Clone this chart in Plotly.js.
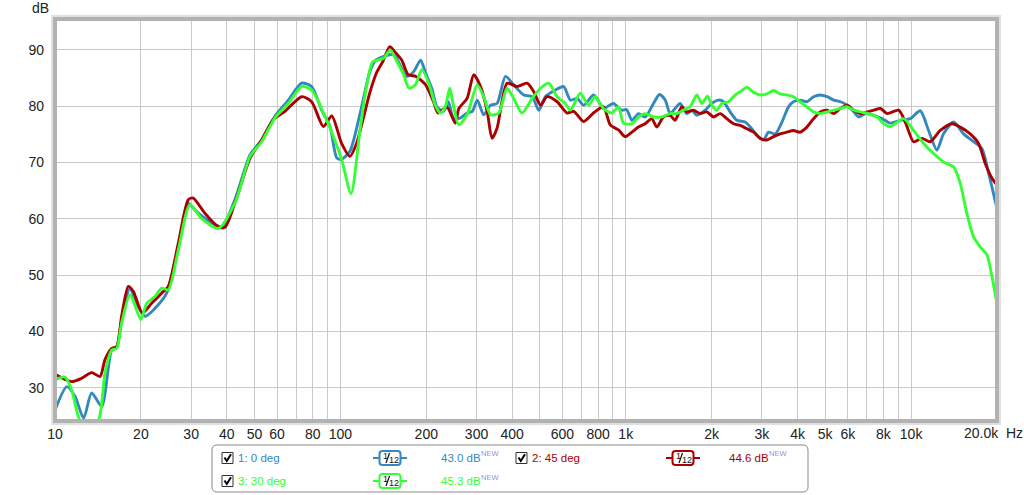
<!DOCTYPE html>
<html>
<head>
<meta charset="utf-8">
<script src="https://cdn.plot.ly/plotly-3.0.1.min.js"></script>
<style>
html,body{margin:0;padding:0;background:#fff;}
#chart{width:1024px;height:495px;}
</style>
</head>
<body>
<div id="chart"></div>
<script>
// ---- data ----
const seriesNames = ["1: 0 deg", "2: 45 deg", "3: 30 deg"];
const seriesLevels = ["43.0 dB", "44.6 dB", "45.3 dB"];

const f0 = [10,11.0,11.75,12.6,13.44,14.58,15.8,16.45,17.12,18.32,19.32,20.67,22.4,24.61,27.05,29.31,30.91,33.52,38.35,42.69,48.27,52.98,58.95,65.71,73.15,79.3,86.0,92.0,97.2,101,108,117,127,133,145,154,162,171,181,191,198,209,218,230,239,249,263,278,290,302,318,336,354,379,405,439,470,496,523,567,606,640,675,712,771,813,836,905,968,1008,1051,1108,1170,1251,1313,1375,1431,1489,1551,1637,1704,1774,1898,2003,2114,2201,2323,2451,2622,2765,2918,3039,3164,3342,3527,3720,3871,4086,4314,4554,4807,5075,5358,5655,5970,6302,6559,6919,7398,7914,8452,9162,9931,10768,11512,12315,12991,14098,15273,16558,17707,18696,19989];
const db0 = [26.0,30.2,28.5,24.6,29.1,26.7,36.7,37.3,42.0,47.7,45.0,42.7,44.1,46.8,55.1,62.8,61.6,60.1,58.6,63.4,71.4,74.0,78.2,81.1,84.1,83.5,79.3,76.4,70.8,70.6,72.0,78.5,86.2,88.2,89.0,89.2,87.3,85.3,86.2,88.2,86.2,83.2,79.9,79.1,80.8,77.9,77.9,78.8,79.1,81.1,78.5,80.2,80.5,85.3,83.8,82.0,81.7,79.3,81.7,82.9,83.5,81.1,81.4,80.2,82.0,80.5,79.6,80.5,79.3,79.4,77.5,78.7,78.1,80.5,82.1,81.1,78.7,79.6,80.5,78.7,79.3,78.4,79.3,80.5,81.1,80.8,79.0,77.5,77.2,76.0,74.6,74.0,75.4,75.1,77.2,79.9,80.8,81.1,80.8,81.7,82.0,81.7,81.1,80.8,80.2,79.0,78.1,78.7,78.4,77.8,77.0,77.5,77.8,79.2,75.7,72.2,75.1,77.2,75.1,73.7,72.5,68.1,61.9];

const f45 = [10,11.44,12.4,13.44,14.38,14.97,15.8,16.45,17.12,18.07,18.82,20.23,21.81,23.64,24.94,27.05,29.31,30.5,33.52,37.33,39.4,42.69,48.27,52.98,58.17,63.95,73.15,79.3,87.2,93.3,101,108,114,120,127,134,141,149,155,164,173,184,199,212,220,236,253,260,278,293.5,310,327,340,354,384,416,451,476,503,530,575,623,657,712,771,836,882,943,995,1051,1108,1170,1234,1285,1355,1431,1489,1572,1637,1727,1822,1923,2030,2143,2261,2386,2518,2657,2804,2959,3121,3297,3479,3670,3871,4086,4314,4554,4807,5075,5358,5655,5970,6302,6647,7012,7398,7809,8242,9044,9542,10203,10912,11672,12653,13904,14867,16110,17242,18206,19212,19989];
const db45 = [32.4,31.1,31.7,32.7,32.0,35.0,37.0,37.3,42.7,48.0,47.1,43.3,45.0,46.8,48.0,55.7,63.4,63.7,61.0,58.6,58.5,62.8,70.8,74.0,77.6,79.1,81.7,80.8,76.4,78.3,73.4,71.1,73.4,77.6,82.5,86.0,88.0,90.6,89.7,88.2,85.6,85.3,83.8,80.8,78.8,79.9,77.0,79.6,81.4,85.6,83.5,79.1,74.3,76.1,84.1,83.5,84.1,82.6,80.2,81.7,80.8,78.8,79.1,77.3,78.8,79.9,76.7,75.8,74.6,75.4,76.3,76.9,77.8,76.3,78.1,78.4,77.5,79.9,79.0,79.3,78.7,79.0,78.1,78.7,77.8,76.9,76.6,76.0,75.4,74.3,74.0,74.6,75.1,75.4,75.7,75.4,76.3,77.8,79.0,79.3,78.7,79.6,80.2,79.3,78.7,79.0,79.3,79.6,78.7,79.3,77.2,73.7,74.3,73.7,75.7,76.9,76.3,75.1,73.4,69.8,67.2,66.0];

const f30 = [10,10.84,11.44,12.07,12.74,14.19,14.97,15.8,16.45,17.12,18.32,20.0,20.95,22.4,23.64,24.94,27.05,29.7,32.63,37.33,42.69,48.27,52.98,58.95,65.71,73.15,79.3,88.38,94.6,101.1,109,117,123,130,141.6,149.6,158,166.7,174,183,193,204,215,224,233,241.7,249,260,278,301.7,318,336,359,383.7,405,433,470,503,537.5,574.6,614,640,693,741,782,836,893,943,982,1051,1108,1170,1251,1338,1431,1510,1594,1681,1774,1847,1934,2003,2086,2172,2291,2418,2552,2657,2804,2959,3121,3297,3479,3670,3871,4086,4314,4554,4807,5075,5358,5655,5970,6302,6647,7107,7600,8023,8452,9415,10203,11064,11985,12991,14098,14867,15687,16558,17479,18442,19212,19989];
const db30 = [31.4,31.9,29.6,24.9,22.5,24.3,32.6,36.7,37.0,41.5,46.5,42.1,45.0,46.2,47.7,47.4,54.5,62.5,60.1,58.3,62.8,71.1,73.7,77.9,80.5,83.5,82.9,78.2,74.6,70.5,64.5,75.5,83.0,87.9,88.5,90.0,87.9,85.6,83.2,83.8,86.5,84.1,80.2,78.8,79.9,83.2,80.2,76.7,78.5,83.8,81.7,78.5,78.8,83.2,81.4,78.8,81.4,83.2,84.1,81.7,80.5,79.3,82.3,80.2,81.7,79.6,78.8,79.9,77.0,76.9,78.1,78.7,78.1,78.1,78.7,78.7,79.3,79.9,82.0,80.5,81.8,80.2,79.3,80.5,80.8,82.0,82.8,83.4,82.5,82.0,82.2,82.8,82.2,82.0,81.7,80.8,79.9,79.0,78.7,79.0,79.3,79.6,79.9,79.3,79.0,78.7,78.1,76.9,76.4,77.8,75.7,73.4,71.6,70.1,69.2,66.3,60.9,56.8,55.0,53.6,49.7,45.0];

const xTickVals = [10,20,30,40,50,60,80,100,200,300,400,600,800,1000,2000,3000,4000,5000,6000,8000,10000];
const xTickText = ["10","20","30","40","50","60","80","100","200","300","400","600","800","1k","2k","3k","4k","5k","6k","8k","10k"];
const yTickVals = [30,40,50,60,70,80,90];

// ---- styling ----
const colors = ["#3388bd", "#aa0000", "#33ff33"];
const W = 1024, H = 495;
const L = 55, R = 997, T = 19, B = 421;
const px = x => (x - L) / (R - L);
const py = y => (B - y) / (B - T);

const traces = [
  {x: f0, y: db0, name: seriesNames[0], color: colors[0]},
  {x: f45, y: db45, name: seriesNames[1], color: colors[1]},
  {x: f30, y: db30, name: seriesNames[2], color: colors[2]}
].map(s => ({
  type: "scatter", mode: "lines", x: s.x, y: s.y, name: s.name,
  line: {color: s.color, width: 2.9, shape: "spline", smoothing: 0.7},
  hoverinfo: "skip"
}));

const shapes = [];
const annotations = [];
const lf = "Liberation Sans, Arial, sans-serif";
function note(x, y, text, size, color, anchor) {
  annotations.push({xref: "paper", yref: "paper", x: px(x), y: py(y), text: text, showarrow: false,
    font: {family: lf, size: size, color: color}, xanchor: anchor || "left", yanchor: "middle"});
}

// plot frame with soft shadow
shapes.push({type: "rect", xref: "paper", yref: "paper", x0: px(L-3), x1: px(R+3), y0: py(B+3), y1: py(T-3),
  line: {color: "#e0e0e0", width: 2}, layer: "above"});
shapes.push({type: "rect", xref: "paper", yref: "paper", x0: 0, x1: 1, y0: 0, y1: 1,
  line: {color: "#b2b2b2", width: 4}, layer: "above"});

// axis text extras
note(40, 8, "dB", 14, "#222", "center");
note(1001, 433, "20.0k", 14, "#222", "right");
note(1004, 433, "Hz", 14, "#222", "left");

// legend box (rounded)
function roundRect(x0, y0, x1, y1, r) {
  const X = v => px(v), Y = v => py(v);
  return `M ${X(x0+r)} ${Y(y0)} L ${X(x1-r)} ${Y(y0)} Q ${X(x1)} ${Y(y0)} ${X(x1)} ${Y(y0+r)} ` +
         `L ${X(x1)} ${Y(y1-r)} Q ${X(x1)} ${Y(y1)} ${X(x1-r)} ${Y(y1)} L ${X(x0+r)} ${Y(y1)} ` +
         `Q ${X(x0)} ${Y(y1)} ${X(x0)} ${Y(y1-r)} L ${X(x0)} ${Y(y0+r)} Q ${X(x0)} ${Y(y0)} ${X(x0+r)} ${Y(y0)} Z`;
}
shapes.push({type: "path", xref: "paper", yref: "paper", path: roundRect(212, 445, 808, 492, 5),
  line: {color: "#8a8a8a", width: 1}, fillcolor: "rgba(255,255,255,0)"});

const legendItems = [
  {col: 0, row: 0, s: 0},
  {col: 1, row: 0, s: 1},
  {col: 0, row: 1, s: 2}
];
const colX = [{cb: 222, txt: 236, icon: 390, lvl: 439}, {cb: 516, txt: 530, icon: 683, lvl: 727}];
const rowY = [458, 481];
legendItems.forEach(it => {
  const c = colX[it.col], y = rowY[it.row], col = colors[it.s];
  // checkbox
  shapes.push({type: "rect", xref: "paper", yref: "paper", x0: px(c.cb), x1: px(c.cb+11), y0: py(y+5.5), y1: py(y-5.5),
    line: {color: "#333", width: 1}, fillcolor: "#fff"});
  shapes.push({type: "path", xref: "paper", yref: "paper",
    path: `M ${px(c.cb+2.5)} ${py(y-0.5)} L ${px(c.cb+4.8)} ${py(y+3)} L ${px(c.cb+9)} ${py(y-3.8)}`,
    line: {color: "#000", width: 2}});
  // series name
  note(c.txt, y, seriesNames[it.s], 11.5, col);
  // 1/12 smoothing icon
  shapes.push({type: "line", xref: "paper", yref: "paper", x0: px(c.icon-17), x1: px(c.icon+17), y0: py(y), y1: py(y),
    line: {color: col, width: 2}});
  shapes.push({type: "path", xref: "paper", yref: "paper", path: roundRect(c.icon-10.5, y-7, c.icon+10.5, y+7, 3),
    line: {color: col, width: 2}, fillcolor: "#fff"});
  note(c.icon-5, y-2, "1", 9, "#111", "center");
  shapes.push({type: "line", xref: "paper", yref: "paper", x0: px(c.icon-4), x1: px(c.icon-0.5), y0: py(y+5), y1: py(y-5),
    line: {color: "#111", width: 1.2}});
  note(c.icon+4, y+2, "12", 9, "#111", "center");
  // level + NEW
  note(c.lvl, y, seriesLevels[it.s], 11.5, col);
  note(c.lvl + 40, y - 4, "NEW", 7.5, "#8f8ff0");
});

const layout = {
  width: W, height: H,
  margin: {l: L, r: W - R, t: T, b: H - B, pad: 0},
  paper_bgcolor: "#fff", plot_bgcolor: "#fff",
  showlegend: false,
  font: {family: lf, size: 14, color: "#222"},
  xaxis: {
    type: "log", range: [1, Math.log10(20000)],
    tickmode: "array", tickvals: xTickVals, ticktext: xTickText,
    showgrid: true, gridcolor: "#c9c9c9", gridwidth: 1,
    minor: {dtick: "D1", showgrid: true, gridcolor: "#c9c9c9", gridwidth: 1, ticks: ""},
    ticks: "", zeroline: false, showline: false,
    tickfont: {size: 14, color: "#222"}, ticklabelstandoff: 3
  },
  yaxis: {
    range: [24.1, 95.5],
    tickmode: "array", tickvals: yTickVals,
    showgrid: true, gridcolor: "#c9c9c9", gridwidth: 1,
    ticks: "", zeroline: false, showline: false,
    tickfont: {size: 14, color: "#222"}, ticklabelstandoff: 10
  },
  shapes: shapes,
  annotations: annotations
};

Plotly.newPlot("chart", traces, layout, {staticPlot: true, displayModeBar: false});
</script>
</body>
</html>
